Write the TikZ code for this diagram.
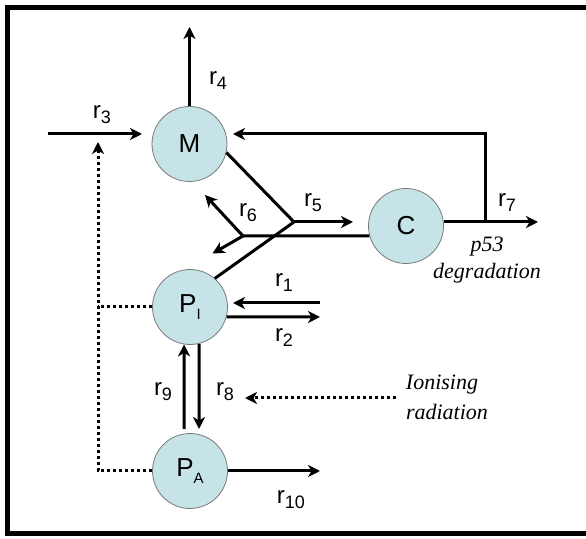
\documentclass[tikz,border=0pt]{standalone}
\usepackage{fontspec}
\setmainfont{Liberation Sans}
\newfontfamily\tnr{Liberation Serif}
\usetikzlibrary{arrows.meta}
\definecolor{cfill}{RGB}{198,228,232}
\definecolor{cline}{RGB}{120,120,120}
\newcommand{\rl}[1]{r\raisebox{-5pt}{\fontsize{18}{18}\selectfont #1}}
\newcommand{\psub}[1]{P\raisebox{-7pt}{\fontsize{15}{15}\selectfont #1}}
\begin{document}
\begin{tikzpicture}[x=1pt,y=1pt,
  cir/.style={circle,draw=cline,line width=0.8pt,fill=cfill,minimum size=75pt,inner sep=0pt,font=\fontsize{26}{26}\selectfont},
  ln/.style={line width=3pt},
  arr/.style={line width=3pt,-{Stealth[length=12pt,width=12pt,inset=3.5pt]}},
  dotln/.style={line width=3pt,dash pattern=on 3pt off 3pt},
  dotarr/.style={dotln,-{Stealth[length=12pt,width=12pt,inset=3.5pt]}},
  lab/.style={font=\fontsize{24}{24}\selectfont,inner sep=0pt},
  itlab/.style={font=\tnr\itshape\fontsize{22}{22}\selectfont,inner sep=0pt}]
\useasboundingbox (0,0) rectangle (586,538);
\draw[line width=5pt] (7.5,4.5) rectangle (600,530.5);
% nodes
\node[cir] (M) at (189.5,394) {M};
\node[cir] (C) at (406,312) {C};
\node[cir] (PI) at (190,231) {\psub{I}};
\node[cir] (PA) at (190,67) {\psub{A}};
% coordinates
\coordinate (r4e) at (189.5,511);
\coordinate (r3s) at (48,404);
\coordinate (r3e) at (142,404);
\coordinate (dtip) at (98,396);
\coordinate (fb) at (485,316);
\coordinate (fbe) at (233,404);
\coordinate (r7e) at (538,316);
\coordinate (J) at (294,316);
\coordinate (r5e) at (353,316);
\coordinate (K) at (243,302);
\coordinate (r6a) at (205,343);
\coordinate (r6b) at (212.5,284.5);
\coordinate (r1s) at (320,235);
\coordinate (r1e) at (233,235);
\coordinate (r2e) at (320,221);
\coordinate (r9s) at (184,109);
\coordinate (r8e) at (199,109);
\coordinate (ions) at (396,140);
\coordinate (ione) at (245,140);
\coordinate (r10e) at (320,67);
% connectors
\draw[arr] (M.north) -- (r4e);
\draw[arr] (r3s) -- (r3e);
\draw[dotln] (PI.west) -- (PI.west -| dtip);
\draw[dotarr] (PA.west) -| (dtip);
\draw[arr] (C.east |- fb) -- (r7e);
\draw[arr] (fb) |- (fbe);
\draw[ln] (M.-13) -- (J) -- (PI.49);
\draw[arr] (J) -- (r5e);
\draw[ln] (C.195) -- (K);
\draw[arr] (K) -- (r6a);
\draw[arr] (K) -- (r6b);
\draw[arr] (r1s) -- (r1e);
\draw[arr] (PI.-15) -- (r2e);
\draw[arr] (r9s) -- (PI.261);
\draw[arr] (PI.284) -- (r8e);
\draw[dotarr] (ions) -- (ione);
\draw[arr] (PA.east) -- (r10e);
% labels
\node[lab] (l4) at (218,457) {\rl{4}};
\node[lab] (l3) at (102,423) {\rl{3}};
\node[lab] (l5) at (313,335) {\rl{5}};
\node[lab] (l6) at (248,325) {\rl{6}};
\node[lab] (l7) at (507,335) {\rl{7}};
\node[lab] (l1) at (284,255) {\rl{1}};
\node[lab] (l2) at (284,200) {\rl{2}};
\node[lab] (l9) at (163,146) {\rl{9}};
\node[lab] (l8) at (225,146) {\rl{8}};
\node[lab] (l10) at (291,38) {\rl{10}};
\node[itlab] (p53) at (487,291) {p53};
\node[itlab] (deg) at (487,265) {degradation};
\node[itlab] (ion) at (442,153) {Ionising};
\node[itlab] (rad) at (447,126) {radiation};
\end{tikzpicture}
\end{document}
